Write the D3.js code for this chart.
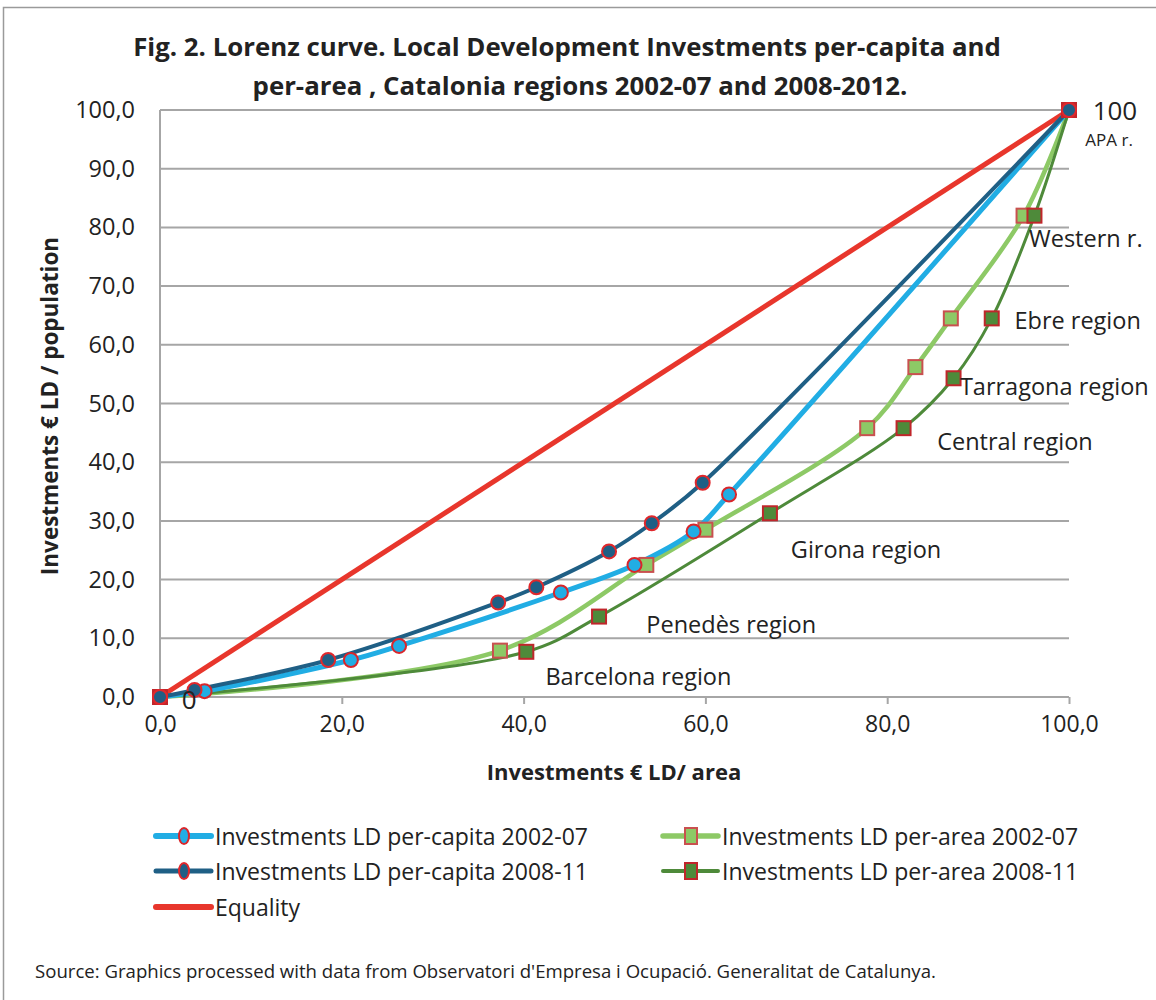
<!DOCTYPE html>
<html><head><meta charset="utf-8">
<script src="https://cdn.jsdelivr.net/npm/d3@7"></script>
<style>
body{margin:0;background:#fff;}
svg{display:block;}
text{font-family:"Open Sans",sans-serif;fill:#222;}
</style></head>
<body>
<script>
// ---- data ----
const perCapita0207 = [[0,0],[4.9,1.0],[21.0,6.3],[26.3,8.7],[44.1,17.8],[52.2,22.5],[58.7,28.2],[62.6,34.5],[100,100]];
const perCapita0811 = [[0,0],[3.8,1.2],[18.5,6.3],[37.2,16.1],[41.4,18.7],[49.4,24.8],[54.1,29.6],[59.7,36.5],[100,100]];
const perArea0207 = [[0,0],[37.4,7.9],[53.5,22.5],[60.0,28.5],[77.8,45.8],[83.1,56.2],[87.0,64.5],[95.0,82.0],[100,100]];
const perArea0811 = [[0,0],[40.3,7.7],[48.3,13.7],[67.1,31.3],[81.8,45.8],[87.3,54.3],[91.5,64.5],[96.2,82.0],[100,100]];
const equality = [[0,0],[100,100]];
const xTicks = [0,20,40,60,80,100];
const yTicks = [0,10,20,30,40,50,60,70,80,90,100];
const regionLabels = [
  {text:"0", x:2.4, y:-0.4, big:true},
  {text:"100", x:102.6, y:100, big:true},
  {text:"APA r.", x:101.8, y:94.9, small:true},
  {text:"Western  r.", x:95.6, y:78.2},
  {text:"Ebre  region", x:94.0, y:64.3},
  {text:"Tarragona  region", x:88.0, y:53.0},
  {text:"Central region", x:85.5, y:43.6},
  {text:"Girona region", x:69.4, y:25.2},
  {text:"Penedès region", x:53.5, y:12.4},
  {text:"Barcelona  region", x:42.4, y:3.6}
];
const titleLines = ["Fig. 2. Lorenz curve. Local Development Investments per-capita and","per-area , Catalonia regions 2002-07 and 2008-2012."];

const series = [
  {name:"Investments LD per-capita 2002-07", data:perCapita0207, color:"#21ade4", width:5, marker:"circle", mstroke:"#d9262b"},
  {name:"Investments LD per-capita 2008-11", data:perCapita0811, color:"#1f5f85", width:4, marker:"circle", mstroke:"#e0282c"},
  {name:"Investments LD per-area 2002-07", data:perArea0207, color:"#8dc966", width:4.5, marker:"square", mstroke:"#c9504f"},
  {name:"Investments LD per-area 2008-11", data:perArea0811, color:"#4e8a3a", width:3, marker:"square", mstroke:"#c0262b"},
  {name:"Equality", data:equality, color:"#e8362c", width:5, marker:null}
];

const W=1156,H=1000;
const svg=d3.select("body").append("svg").attr("width",W).attr("height",H);
svg.append("rect").attr("width",W).attr("height",H).attr("fill","#fff");
// border
svg.append("path").attr("d","M3.5,1000 V7.5 H1156").attr("fill","none").attr("stroke","#9a9a9a").attr("stroke-width",1.5);

const x=d3.scaleLinear().domain([0,100]).range([160,1069]);
const y=d3.scaleLinear().domain([0,100]).range([697,110]);

// title
svg.append("g").selectAll("text").data(titleLines).join("text")
  .attr("x",(d,i)=>i===0?567:580).attr("y",(d,i)=>56+i*39).attr("text-anchor","middle")
  .attr("font-weight","bold").attr("font-size",25.8).text(d=>d);

// grid
svg.append("g").selectAll("line").data(yTicks).join("line")
  .attr("x1",x(0)).attr("x2",x(100)).attr("y1",d=>y(d)).attr("y2",d=>y(d))
  .attr("stroke","#a6a6a6").attr("stroke-width",2);
svg.append("line").attr("x1",x(0)).attr("x2",x(0)).attr("y1",y(0)).attr("y2",y(100)).attr("stroke","#a6a6a6").attr("stroke-width",2);

const fmt=d=>d3.format(".1f")(d).replace(".",",");
const xAxis=svg.append("g").attr("transform",`translate(0,${y(0)})`)
  .call(d3.axisBottom(x).tickValues(xTicks).tickFormat(fmt).tickSize(7).tickPadding(12));
xAxis.select(".domain").remove();
xAxis.selectAll("line").attr("stroke","#a6a6a6").attr("stroke-width",2);
xAxis.selectAll("text").attr("font-size",23).attr("fill","#222").attr("font-family",null);

const yAxis=svg.append("g").attr("transform",`translate(${x(0)},0)`)
  .call(d3.axisLeft(y).tickValues(yTicks).tickFormat(fmt).tickSize(0).tickPadding(25));
yAxis.select(".domain").remove();
yAxis.selectAll("text").attr("font-size",23.5).attr("fill","#222").attr("font-family",null);

// axis titles
svg.append("text").attr("x",614).attr("y",780).attr("text-anchor","middle").attr("font-weight","bold").attr("font-size",22).text("Investments € LD/ area");
svg.append("text").attr("transform","translate(58,406) rotate(-90)").attr("text-anchor","middle").attr("font-weight","bold").attr("font-size",22.5).text("Investments € LD / population");

// lines
const line=d3.line().x(d=>x(d[0])).y(d=>y(d[1])).curve(d3.curveCatmullRom.alpha(0.5));
const drawOrder=[4,2,3,0,1];
drawOrder.forEach(i=>{
  const s=series[i];
  svg.append("path").datum(s.data).attr("d",line).attr("fill","none").attr("stroke",s.color).attr("stroke-width",s.width).attr("stroke-linejoin","round");
});
// markers
function drawMarker(g,s,cx,cy){
  if(s.marker==="circle"){
    g.append("circle").attr("cx",cx).attr("cy",cy).attr("r",7).attr("fill",s.color).attr("stroke",s.mstroke).attr("stroke-width",2);
  } else if(s.marker==="square"){
    g.append("rect").attr("x",cx-7).attr("y",cy-7).attr("width",14).attr("height",14).attr("fill",s.color).attr("stroke",s.mstroke).attr("stroke-width",2);
  }
}
[2,3,0,1].forEach(i=>{
  const s=series[i];const g=svg.append("g");
  s.data.forEach(d=>drawMarker(g,s,x(d[0]),y(d[1])));
});

// region labels
svg.append("g").selectAll("text").data(regionLabels).join("text")
  .attr("x",d=>x(d.x)).attr("y",d=>y(d.y)).attr("dominant-baseline","central")
  .attr("font-size",d=>d.small?17:(d.big?26:23.5)).text(d=>d.text);

// legend
const legendPos=[[153,836],[153,871],[660,836],[660,871],[153,907]];
series.forEach((s,k)=>{
  const [lx,ly]=legendPos[k];
  const g=svg.append("g");
  g.append("line").attr("x1",lx+3).attr("x2",lx+58).attr("y1",ly).attr("y2",ly).attr("stroke",s.color).attr("stroke-width",s.width+1).attr("stroke-linecap","round");
  if(s.marker==="circle"){
    g.append("ellipse").attr("cx",lx+31).attr("cy",ly).attr("rx",5).attr("ry",8).attr("fill",s.color).attr("stroke",s.mstroke).attr("stroke-width",2);
  } else if(s.marker==="square"){
    g.append("rect").attr("x",lx+25).attr("y",ly-8).attr("width",12).attr("height",16).attr("fill",s.color).attr("stroke",s.mstroke).attr("stroke-width",2);
  }
  g.append("text").attr("x",lx+62).attr("y",ly).attr("dominant-baseline","central").attr("font-size",23).text(s.name);
});

// source
svg.append("text").attr("x",35).attr("y",978).attr("font-size",18.6).text("Source: Graphics processed with data from Observatori d'Empresa i Ocupació. Generalitat de Catalunya.");
</script>
</body></html>
